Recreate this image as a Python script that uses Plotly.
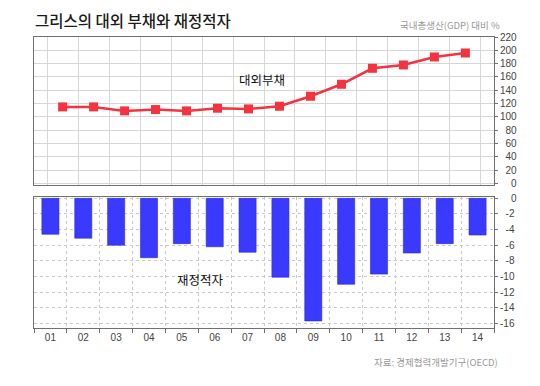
import plotly.graph_objects as go

years = ["01", "02", "03", "04", "05", "06", "07", "08", "09", "10", "11", "12", "13", "14"]
external_debt = [115, 115, 109, 111, 109, 113, 112, 116, 131, 149, 173, 178, 190, 196]
fiscal_deficit = [-4.6, -5.1, -6.0, -7.6, -5.8, -6.2, -6.9, -10.1, -15.7, -11.0, -9.7, -7.0, -5.8, -4.7]

debt_ticks = list(range(0, 221, 20))
deficit_ticks = list(range(0, -17, -2))

FONT = "Noto Sans CJK KR, Noto Sans, sans-serif"
NUMFONT = "Liberation Sans, Arial, sans-serif"
FS = "\u2007"


def pad(v, n=3):
    s = str(v)
    return FS * max(0, n - len(s)) + s


fig = go.Figure()
fig.add_trace(go.Scatter(
    x=years, y=external_debt, mode="lines+markers",
    line=dict(color="#f3333f", width=2.5),
    marker=dict(symbol="square", size=9, color="#f3333f"),
    xaxis="x", yaxis="y", showlegend=False, hoverinfo="skip",
))
fig.add_trace(go.Bar(
    x=years, y=fiscal_deficit, width=0.52,
    marker=dict(color="#3a3aff", line=dict(color="#2a2ad8", width=0.6)),
    xaxis="x2", yaxis="y2", showlegend=False, hoverinfo="skip",
))

axis_line = "#707070"
fig.update_layout(
    width=540, height=386,
    margin=dict(l=34, r=46, t=37, b=58),
    paper_bgcolor="white", plot_bgcolor="white",
    font=dict(family=NUMFONT, size=10, color="#444"),
    hovermode=False,
    xaxis=dict(
        domain=[0, 1], anchor="y", type="category", tickson="boundaries",
        showticklabels=False, ticks="", showgrid=True, gridcolor="#d6d6d6", gridwidth=1,
        showline=True, mirror=True, linecolor=axis_line, linewidth=1,
    ),
    yaxis=dict(
        domain=[0.491, 1], anchor="x", side="right", range=[-2.5, 220],
        tickvals=debt_ticks, ticktext=[pad(v) for v in debt_ticks],
        ticks="outside", ticklen=3, tickcolor=axis_line,
        showgrid=True, gridcolor="#d6d6d6", gridwidth=1, zeroline=False,
        showline=True, mirror=True, linecolor=axis_line, linewidth=1,
        tickfont=dict(size=10, color="#444", family=NUMFONT),
    ),
    xaxis2=dict(
        domain=[0, 1], anchor="y2", type="category", tickson="boundaries",
        ticks="outside", ticklen=4, tickcolor=axis_line,
        showgrid=True, gridcolor="#c8c8c8", griddash="dot", gridwidth=1,
        showline=True, mirror=True, linecolor=axis_line, linewidth=1,
        tickfont=dict(size=10, color="#444", family=NUMFONT),
    ),
    yaxis2=dict(
        domain=[0, 0.451], anchor="x2", side="right", range=[-16.6, 0.2],
        tickvals=deficit_ticks, ticktext=[pad(v) for v in deficit_ticks],
        ticks="outside", ticklen=3, tickcolor=axis_line,
        showgrid=True, gridcolor="#c8c8c8", griddash="dot", gridwidth=1, zeroline=False,
        showline=True, mirror=True, linecolor=axis_line, linewidth=1,
        tickfont=dict(size=10, color="#444", family=NUMFONT),
    ),
    bargap=0.48,
)

fig.add_annotation(text="그리스의 대외 부채와 재정적자", xref="paper", yref="paper",
                   x=-0.002, y=1.057, xanchor="left", yanchor="middle", showarrow=False,
                   font=dict(family=FONT, size=15.5, color="#1a1a1a", weight=500))
fig.add_annotation(text="국내총생산(GDP) 대비 %", xref="paper", yref="paper",
                   x=1.017, y=1.040, xanchor="right", yanchor="middle", showarrow=False,
                   font=dict(family=FONT, size=9.5, color="#999"))
fig.add_annotation(text="자료: 경제협력개발기구(OECD)", xref="paper", yref="paper",
                   x=1.013, y=-0.117, xanchor="right", yanchor="middle", showarrow=False,
                   font=dict(family=FONT, size=9.5, color="#999"))
fig.add_annotation(text="대외부채", xref="paper", yref="paper",
                   x=0.496, y=0.855, xanchor="center", yanchor="middle", showarrow=False,
                   font=dict(family=FONT, size=12.5, color="#111"))
fig.add_annotation(text="재정적자", xref="paper", yref="paper",
                   x=0.361, y=0.168, xanchor="center", yanchor="middle", showarrow=False,
                   font=dict(family=FONT, size=12.5, color="#111"))

fig.write_html("out.html", config={"displayModeBar": False, "staticPlot": True},
               post_script="document.body.style.margin='0';")
